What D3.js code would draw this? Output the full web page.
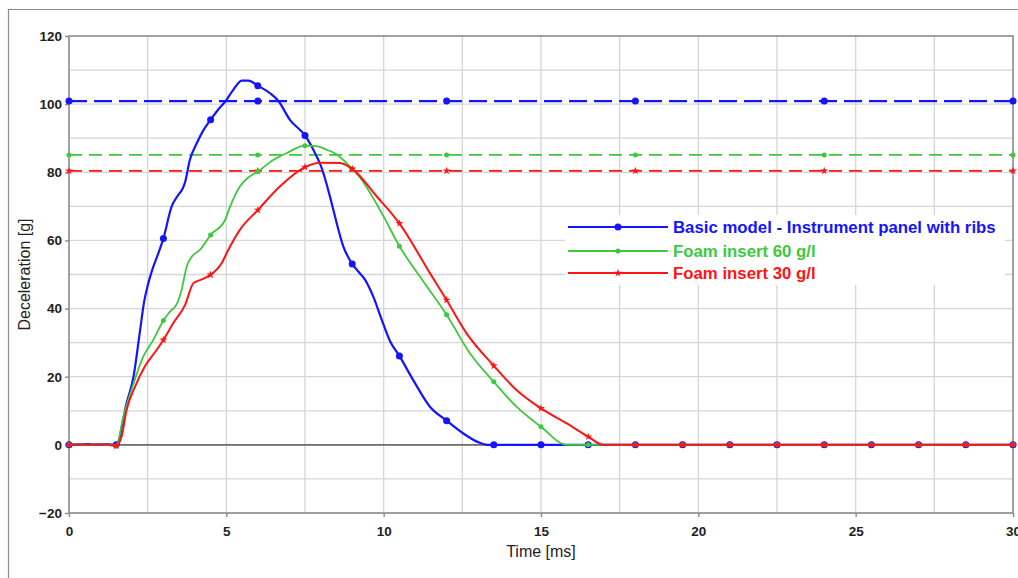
<!DOCTYPE html>
<html><head><meta charset="utf-8">
<script src="https://cdn.jsdelivr.net/npm/d3@7"></script>
<style>
html,body{margin:0;padding:0;background:#fff;}
svg text{font-family:"Liberation Sans",Arial,sans-serif;}
</style></head>
<body>
<svg id="chart" width="1018" height="578"></svg>
<script>
// ---- data ----
const seriesNames = ["Basic model - Instrument panel with ribs", "Foam insert 60 g/l", "Foam insert 30 g/l"];
const seriesColors = ["#1414ff", "#3ec83e", "#ff1414"];

const blueTime = [0,0.3,0.6,0.9,1.2,1.5,1.83,2.05,2.26,2.38,2.52,2.68,2.85,3,3.26,3.47,3.6,3.68,3.84,4.06,4.25,4.5,4.75,4.96,5.22,5.49,5.7,6,6.39,6.65,7.02,7.5,7.82,8,8.29,8.4,8.72,9,9.2,9.41,9.67,9.94,10.2,10.5,10.94,11.47,12,12.52,13,13.3,13.5,15,16.5,18,19.5,21,22.5,24,25.5,27,28.5,30];
const blueValue = [0,0.1,0.2,0.1,0.2,0,12.2,20,33.7,41.6,47.4,52.3,56.5,60.6,69.9,73.3,75,76.8,83.6,88.5,92,95.4,98.5,100.7,104.2,106.9,106.9,105.4,103.2,101,95.4,90.8,85.6,82,73,69,58.2,53.1,50.8,48.4,43.5,36.7,30.5,26.1,19,11.2,7.1,3.4,0.8,0,0,0,0,0,0,0,0,0,0,0,0,0];

const greenTime = [0,0.3,0.6,0.9,1.2,1.5,1.73,2.05,2.36,2.68,3,3.21,3.44,3.58,3.74,3.9,4.16,4.5,4.96,5.12,5.43,5.7,6,6.49,6.91,7.5,7.87,8.19,8.4,8.72,9,9.14,10,10.5,11.15,12,12.74,13.5,14.22,15,15.82,16.5,18,19.5,21,22.5,24,25.5,27,28.5,30];
const greenValue = [0,0.2,0,0.2,0.1,-0.3,8.3,18,25.9,30.8,36.5,39.1,41.6,45.5,52.3,55.2,57.2,61.6,66,69.9,75.8,78.5,80.2,83.6,85.6,87.8,87.7,86.6,85.8,83.6,81,79.7,67,58.3,49.4,38.2,26.9,18.5,11.2,5.3,0,0,0,0,0,0,0,0,0,0,0];

const redTime = [0,0.3,0.6,0.9,1.2,1.5,1.67,1.83,2.1,2.41,2.79,3,3.31,3.69,3.95,4.2,4.5,4.85,5.06,5.43,6,6.7,7.5,7.98,8.61,9,9.78,10.5,11.47,12,12.63,13.5,14.22,15,15.82,16.5,16.98,18,19.5,21,22.5,24,25.5,27,28.5,30];
const redValue = [0,0.2,0,0.2,0.1,-0.3,2.4,10.2,17.1,23,27.9,30.8,35.7,41.1,47.4,48.5,49.9,53.3,57.2,63.1,68.9,75.8,81.5,82.8,82.7,81,72.9,65,50.4,42.5,32.8,23.2,16.1,10.7,6.3,2.4,0,0,0,0,0,0,0,0,0,0];

const levelValues = [100.9, 85.1, 80.4];
const levelMarkerTimes = [0, 6, 12, 18, 24, 30];

const xTicks = [0, 5, 10, 15, 20, 25, 30];
const yTicks = [-20, 0, 20, 40, 60, 80, 100, 120];
const xGrid = [2.5,5,7.5,10,12.5,15,17.5,20,22.5,25,27.5];
const yGrid = [-10,0,10,20,30,40,50,60,70,80,90,100,110];
const xTitle = "Time [ms]";
const yTitle = "Deceleration [g]";

// ---- drawing ----
const svg = d3.select("#chart");
const L = 69, R = 1013, T = 36, B = 513;
const x = d3.scaleLinear().domain([0, 30]).range([L, R]);
const y = d3.scaleLinear().domain([-20, 120]).range([B, T]);

// outer frame
svg.append("path").attr("d", `M8.5,578 L8.5,9.5 L1018,9.5`).attr("fill","none").attr("stroke","#8c8c8c").attr("stroke-width",1.2);

// gridlines
const g = svg.append("g");
g.selectAll(".vg").data(xGrid).join("line")
  .attr("x1", d=>x(d)).attr("x2", d=>x(d)).attr("y1", T).attr("y2", B)
  .attr("stroke","#d6d6d6").attr("stroke-width",1.3);
g.selectAll(".hg").data(yGrid).join("line")
  .attr("y1", d=>y(d)).attr("y2", d=>y(d)).attr("x1", L).attr("x2", R)
  .attr("stroke","#d6d6d6").attr("stroke-width",1.3);

// legend background (hides gridlines)
svg.append("rect").attr("x",565).attr("y",215).attr("width",440).attr("height",70).attr("fill","#fff");

// zero line
svg.append("line").attr("x1",L).attr("x2",R).attr("y1",y(0)).attr("y2",y(0)).attr("stroke","#6e6e6e").attr("stroke-width",1.8);

// plot frame
svg.append("rect").attr("x",L).attr("y",T).attr("width",R-L).attr("height",B-T)
  .attr("fill","none").attr("stroke","#8a8a8a").attr("stroke-width",1.6);

// axes
const xAxis = d3.axisBottom(x).tickValues(xTicks).tickSize(4).tickPadding(6).tickFormat(d3.format("d"));
const yAxis = d3.axisLeft(y).tickValues(yTicks).tickSize(4).tickPadding(3).tickFormat(d3.format("d"));
const gx = svg.append("g").attr("transform",`translate(0,${B})`).call(xAxis);
const gy = svg.append("g").attr("transform",`translate(${L},0)`).call(yAxis);
[gx, gy].forEach(a => {
  a.select(".domain").remove();
  a.selectAll(".tick line").attr("stroke","#8a8a8a").attr("stroke-width",1.4);
  a.selectAll(".tick text").attr("fill","#222").style("font-size","13.5px").style("font-weight","bold").style("font-family","'Liberation Sans',Arial,sans-serif");
});
gx.selectAll(".tick text").attr("dy","0.95em");

// axis titles
svg.append("text").attr("x", (L+R)/2).attr("y", 557).attr("text-anchor","middle")
  .style("font-size","16px").attr("fill","#222").text(xTitle);
svg.append("text").attr("transform",`translate(30,${(T+B)/2}) rotate(-90)`).attr("text-anchor","middle")
  .style("font-size","16px").attr("fill","#222").text(yTitle);

// marker helper
function marker(sel, i, cx, cy) {
  if (i === 0) sel.append("circle").attr("cx",cx).attr("cy",cy).attr("r",3.5).attr("fill",seriesColors[0]);
  else if (i === 1) sel.append("circle").attr("cx",cx).attr("cy",cy).attr("r",2.5).attr("fill",seriesColors[1]);
  else sel.append("path").attr("transform",`translate(${cx},${cy})`).attr("d", d3.symbol().type(d3.symbolStar).size(20)()).attr("fill",seriesColors[2]);
}

// dashed levels
const dashes = ["18,7", "13,7", "13,7"];
const dashWidths = [2.4, 1.6, 1.8];
levelValues.forEach((v, i) => {
  const lg = svg.append("g");
  lg.append("line").attr("x1",L).attr("x2",R).attr("y1",y(v)).attr("y2",y(v))
    .attr("stroke",seriesColors[i]).attr("stroke-width",dashWidths[i]).attr("stroke-dasharray",dashes[i]);
  levelMarkerTimes.forEach(t => marker(lg, i, x(t), y(v)));
});

// curves
const allSeries = [
  blueTime.map((t,k)=>({t, v: blueValue[k]})),
  greenTime.map((t,k)=>({t, v: greenValue[k]})),
  redTime.map((t,k)=>({t, v: redValue[k]}))
];
const lineGen = d3.line().x(d=>x(d.t)).y(d=>y(d.v)).curve(d3.curveMonotoneX);
const widths = [2.2, 1.8, 2.0];
allSeries.forEach((data, i) => {
  const sg = svg.append("g");
  sg.append("path").datum(data).attr("d", lineGen).attr("fill","none")
    .attr("stroke",seriesColors[i]).attr("stroke-width",widths[i]).attr("stroke-linejoin","round");
  data.filter(d => Math.abs(d.t/1.5 - Math.round(d.t/1.5)) < 1e-6)
    .forEach(d => marker(sg, i, x(d.t), y(d.v)));
});

// legend
const legY = [227, 251, 273];
seriesNames.forEach((name, i) => {
  const lg = svg.append("g");
  lg.append("line").attr("x1",568).attr("x2",668).attr("y1",legY[i]).attr("y2",legY[i])
    .attr("stroke",seriesColors[i]).attr("stroke-width",widths[i]);
  marker(lg, i, 618, legY[i]);
  lg.append("text").attr("x",673).attr("y",legY[i]).attr("dy","0.36em")
    .style("font-size","16.8px").style("font-weight","bold").attr("fill",seriesColors[i]).text(name);
});
</script>
</body></html>
